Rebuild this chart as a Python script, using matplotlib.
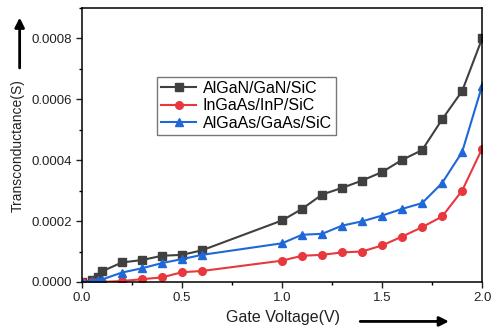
import matplotlib
matplotlib.use("Agg")
import matplotlib.pyplot as plt
from matplotlib.ticker import MultipleLocator

plt.rcParams['font.family'] = ['Liberation Sans', 'DejaVu Sans']

# gate voltage (V)
vg = [0.0, 0.05, 0.08, 0.1, 0.2, 0.3, 0.4, 0.5, 0.6, 1.0, 1.1, 1.2, 1.3,
      1.4, 1.5, 1.6, 1.7, 1.8, 1.9, 2.0]

gm_algan = [0.0, 5e-6, 1.7e-5, 3.5e-5, 6.4e-5, 7.2e-5, 8.6e-5, 8.9e-5, 1.04e-4,
            2.02e-4, 2.40e-4, 2.87e-4, 3.09e-4, 3.33e-4, 3.61e-4, 4.01e-4,
            4.33e-4, 5.34e-4, 6.27e-4, 8.0e-4]
gm_ingaas = [0.0, 0.0, 0.0, 0.0, 3e-6, 9e-6, 1.5e-5, 3.2e-5, 3.6e-5,
             7.0e-5, 8.6e-5, 8.9e-5, 9.7e-5, 1.0e-4, 1.2e-4, 1.49e-4,
             1.8e-4, 2.15e-4, 3.0e-4, 4.38e-4]
gm_algaas = [0.0, 2e-6, 5e-6, 8e-6, 3.1e-5, 4.5e-5, 6.2e-5, 7.5e-5, 8.9e-5,
             1.27e-4, 1.55e-4, 1.58e-4, 1.85e-4, 1.99e-4, 2.18e-4, 2.40e-4,
             2.59e-4, 3.25e-4, 4.27e-4, 6.45e-4]

labels = ["AlGaN/GaN/SiC", "InGaAs/InP/SiC", "AlGaAs/GaAs/SiC"]

fig = plt.figure(figsize=(4.91, 3.29), dpi=100)
ax = fig.add_axes([0.167, 0.143, 0.815, 0.833])

ax.plot(vg, gm_algan, color="#404040", marker="s", ms=5.5, lw=1.5, label=labels[0])
ax.plot(vg, gm_ingaas, color="#e8383d", marker="o", ms=5.5, lw=1.5, label=labels[1])
ax.plot(vg, gm_algaas, color="#1f68d8", marker="^", ms=6, lw=1.5, label=labels[2])

ax.set_xlim(0, 2.0)
ax.set_ylim(0, 0.0009)
ax.xaxis.set_minor_locator(MultipleLocator(0.25))
ax.yaxis.set_minor_locator(MultipleLocator(0.0001))
ax.set_yticks([0, 0.0002, 0.0004, 0.0006, 0.0008])
ax.set_yticklabels(["0.0000", "0.0002", "0.0004", "0.0006", "0.0008"])
ax.set_xticks([0, 0.5, 1.0, 1.5, 2.0])
ax.set_xticklabels(["0.0", "0.5", "1.0", "1.5", "2.0"])
ax.tick_params(which="major", direction="out", length=4, width=1, labelsize=9.5,
               colors="#222222")
ax.tick_params(which="minor", direction="out", length=2.5, width=1)
for s in ax.spines.values():
    s.set_linewidth(1.1)

ax.legend(loc="upper left", bbox_to_anchor=(0.1875, 0.748), fontsize=11.5,
          frameon=True, fancybox=False, edgecolor="#555555", borderpad=0.25,
          handlelength=2.2, handletextpad=0.4, labelspacing=0.15,
          borderaxespad=0)

fig.text(0.037, 0.559, "Transconductance(S)", rotation=90, ha="center",
         va="center", fontsize=10, color="#222222")
fig.text(0.577, 0.035, "Gate Voltage(V)", ha="center", va="center",
         fontsize=11.5, color="#222222")

ax.annotate("", xy=(0.04, 0.955), xytext=(0.04, 0.785),
            xycoords="figure fraction", textcoords="figure fraction",
            annotation_clip=False,
            arrowprops=dict(arrowstyle="-|>", color="black", lw=2,
                            mutation_scale=14))
ax.annotate("", xy=(0.92, 0.023), xytext=(0.728, 0.023),
            xycoords="figure fraction", textcoords="figure fraction",
            annotation_clip=False,
            arrowprops=dict(arrowstyle="-|>", color="black", lw=2,
                            mutation_scale=14))

fig.savefig("out.png", dpi=100)
